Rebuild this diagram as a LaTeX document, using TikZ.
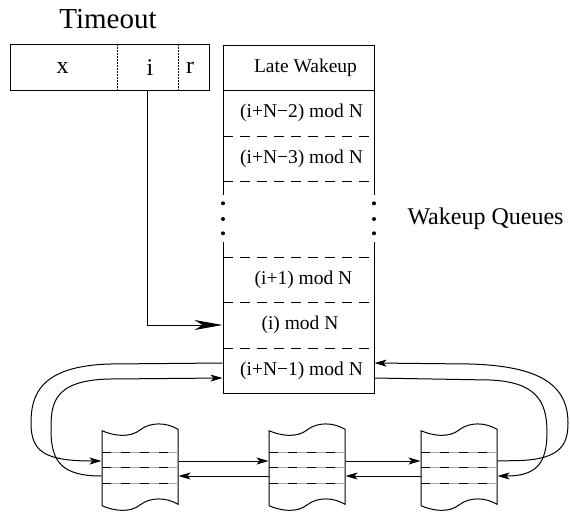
\documentclass[tikz,border=0pt]{standalone}
\usepackage{fontspec}
\setmainfont{Liberation Serif}
\usetikzlibrary{arrows.meta}
\begin{document}
\begin{tikzpicture}[x=1pt,y=-1pt,line width=1pt,
  rowbox/.style={minimum width=151pt,minimum height=45pt,inner sep=0pt,font=\fontsize{19.5}{20}\selectfont},
  fieldlbl/.style={inner sep=0pt,font=\fontsize{24}{25}\selectfont},
  titlelbl/.style={inner sep=0pt,font=\fontsize{29}{30}\selectfont},
  blk/.style={minimum width=76pt,minimum height=75pt,inner sep=0pt},
  smallarrow/.style={-{Stealth[length=12pt,width=7pt,inset=3pt]}},
  bigarrow/.style={-{Stealth[length=28pt,width=10pt,inset=8pt]}},
  rowdash/.style={dash pattern=on 10pt off 7pt},
  fielddiv/.style={dash pattern=on 1.5pt off 1.5pt},
  blkline/.style={gray!70},
  blkdash/.style={dash pattern=on 9pt off 10pt}]
\useasboundingbox (0,0) rectangle (570,512);

% Timeout register
\node[titlelbl] (title) at (108,19) {Timeout};
\node[draw,minimum width=199pt,minimum height=46pt,inner sep=0pt] (tbox) at (110,67) {};
\draw[fielddiv] (117.3,44) -- (117.3,90);
\draw[fielddiv] (178.3,44) -- (178.3,90);
\node[fieldlbl] (fx) at (62.5,68) {x};
\node[fieldlbl] (fi) at (150,68) {i};
\node[fieldlbl] (fr) at (190,68) {r};
\coordinate (itap) at (147.5,90);

% Wakeup queue array
\draw (223,195) -- (223,45) -- (374,45) -- (374,195);
\draw (223,90) -- (374,90);
\draw (223,242) -- (223,393) -- (374,393) -- (374,242);
\foreach \yy in {136,181,257,302,348}
  \draw[rowdash] (223,\yy) -- (374,\yy);
\foreach \xx in {223,374}
  \foreach \yy in {203.3,219,233.3}
    \fill (\xx,\yy) circle (2pt);

\node[rowbox] (late) at (298.5,67.5) {\hspace*{14pt}Late Wakeup};
\node[rowbox] (r2) at (298.5,113) {\hspace*{6pt}(i+N−2) mod N};
\node[rowbox] (r3) at (298.5,158.5) {\hspace*{6pt}(i+N−3) mod N};
\node[rowbox] (r1) at (298.5,279.5) {\hspace*{10pt}(i+1) mod N};
\node[rowbox] (ri) at (298.5,325) {\hspace*{3pt}(i) mod N};
\node[rowbox] (rlast) at (298.5,370.5) {\hspace*{6pt}(i+N−1) mod N};

\node[fieldlbl,anchor=west] (wq) at (407,219) {Wakeup Queues};

% pointer from i field
\draw[bigarrow] (itap) |- (ri.west);

% queue blocks
\foreach \x/\n in {102/b1,269/b2,421/b3}{
  \node[blk] (\n) at (\x+38,468.5) {};
  \draw (\x,430.7) .. controls (\x+12,436) and (\x+28,438) .. (\x+38,430)
        .. controls (\x+48,422) and (\x+64,422) .. (\x+76,429.3)
        -- (\x+76,504.3)
        .. controls (\x+64,497) and (\x+48,497) .. (\x+38,505)
        .. controls (\x+28,513) and (\x+12,511) .. (\x,505.7) -- cycle;
  \foreach \yy in {452.7,467.7,483.3}{
    \draw[blkline] (\x,\yy) -- (\x+76,\yy);
    \draw[blkdash] (\x,\yy) -- (\x+76,\yy);
  }
}

% links between blocks
\draw[smallarrow] ([yshift=7.5pt]b1.east) -- ([yshift=7.5pt]b2.west);
\draw[smallarrow] ([yshift=-7.5pt]b2.west) -- ([yshift=-7.5pt]b1.east);
\draw[smallarrow] ([yshift=7.5pt]b2.east) -- ([yshift=7.5pt]b3.west);
\draw[smallarrow] ([yshift=-7.5pt]b3.west) -- ([yshift=-7.5pt]b2.east);

% left loops
\draw[smallarrow] ([yshift=7.5pt]rlast.west) -- (110,364)
  .. controls (40,366) and (31,395) .. (31,423)
  .. controls (31,452) and (45,461) .. ([yshift=7.5pt]b1.west);
\draw[smallarrow] ([yshift=-7.5pt]b1.west)
  .. controls (62,476) and (51,462) .. (51,430)
  .. controls (51,405) and (52,380) .. (110,379) -- ([yshift=-7.5pt]rlast.west);

% right loops
\draw[smallarrow] ([yshift=7.5pt]b3.east) -- (520,460.5)
  .. controls (560,459) and (568,445) .. (568,423)
  .. controls (568,385) and (540,366) .. (470,364) -- ([yshift=7.5pt]rlast.east);
\draw[smallarrow] ([yshift=-7.5pt]rlast.east) -- (490,380)
  .. controls (535,382) and (547,400) .. (547,432)
  .. controls (547,465) and (535,476) .. ([yshift=-7.5pt]b3.east);
\end{tikzpicture}
\end{document}
